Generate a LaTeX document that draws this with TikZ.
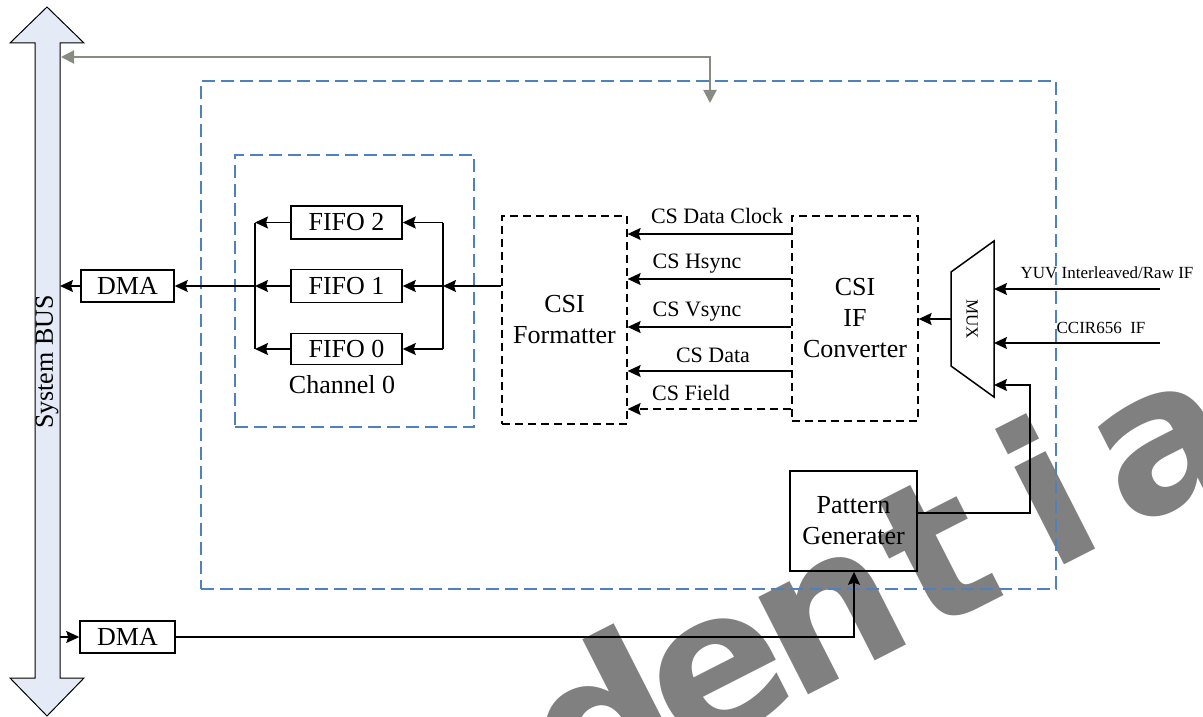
\documentclass[tikz,border=0pt]{standalone}
\usepackage{fontspec}
\setmainfont{Liberation Serif}
\newfontfamily\wmfont{DejaVu Sans}
\usetikzlibrary{arrows.meta,calc}
\definecolor{wmgray}{RGB}{128,128,128}
\definecolor{dblue}{RGB}{79,129,189}
\definecolor{busfill}{RGB}{228,235,246}
\definecolor{linkgray}{RGB}{135,139,130}
\tikzset{
  box/.style={draw,line width=1.5pt,inner sep=0pt,font=\fontsize{26}{31}\selectfont,align=center},
  dbox/.style={box,line width=1.3pt,dash pattern=on 8pt off 5pt},
  bluebox/.style={draw=dblue,line width=1.4pt,dash pattern=on 13pt off 6pt,inner sep=0pt},
  arr/.style={line width=1.5pt,-{Stealth[length=13pt,width=12pt,inset=2pt]}},
  plain/.style={line width=1.5pt},
  lbl/.style={font=\fontsize{22}{26}\selectfont,inner sep=0pt},
  small/.style={font=\fontsize{17}{20}\selectfont,inner sep=0pt},
  big/.style={font=\fontsize{26}{31}\selectfont,inner sep=0pt},
  garr/.style={draw=linkgray,line width=2pt,{Triangle[length=13pt,width=13pt]}-{Triangle[length=13pt,width=13pt]}},
  wm/.style={text=wmgray,font=\wmfont\bfseries\fontsize{200}{200}\selectfont,inner sep=0pt}
}
\begin{document}
\begin{tikzpicture}[x=1pt,y=-1pt]
\useasboundingbox (0,0) rectangle (1203,717);
% watermark
\begin{scope}
\clip (0,0) rectangle (1203,717);
\foreach \k/\ch in {5/d,6/e,7/n,8/t,9/i,10/a,11/l} {
  \node[wm,anchor=base,rotate=27] (wm\k) at ({77+111.4*\k},{1068-56.8*\k}) {\ch};
}
\end{scope}
% system bus
\draw[fill=busfill,line width=1pt] (47,7) -- (84,43) -- (60,43) -- (60,678) -- (84,678) -- (47,716) -- (10,678) -- (35,678) -- (35,43) -- (10,43) -- cycle;
\node[big,rotate=90] (busl) at (47,362) {System BUS};
\coordinate (busR) at (60,0);
% gray link
\coordinate (gA) at (61,57);
\coordinate (gC) at (710,57);
\coordinate (gB) at (710,103);
\draw[garr] (gA) -- (gC) -- (gB);
% dashed blue boxes
\node[bluebox,minimum width=855pt,minimum height=508pt] (outer) at (628.5,335) {};
\node[bluebox,minimum width=239pt,minimum height=272pt] (chan) at (354.5,291) {};
\node[big] (chl) at (342,385) {Channel 0};
% FIFOs
\node[box,minimum width=111pt,minimum height=33pt] (f2) at (346.5,222.5) {FIFO 2};
\node[box,minimum width=111pt,minimum height=33pt] (f1) at (346.5,286) {FIFO 1};
\node[box,minimum width=111pt,minimum height=31pt] (f0) at (346.5,349) {FIFO 0};
\coordinate (lb) at (255,286);
\coordinate (rb) at (443,286);
\draw[plain] (lb |- f2) -- (lb |- f0);
\draw[plain] (rb |- f2) -- (rb |- f0);
\foreach \f in {f2,f1,f0} {
  \draw[arr] (\f.west) -- (lb |- \f);
  \draw[arr] (rb |- \f) -- (\f.east);
}
% DMAs
\node[box,minimum width=93pt,minimum height=32pt] (dmaA) at (127.5,286) {DMA};
\node[box,minimum width=95pt,minimum height=32pt] (dmaB) at (127.5,637) {DMA};
\draw[arr] (lb |- dmaA) -- (dmaA.east);
\draw[arr] (dmaA.west) -- (busR |- dmaA);
\draw[arr] (busR |- dmaB) -- (dmaB.west);
% formatter and converter
\node[dbox,minimum width=125pt,minimum height=208pt] (fmt) at (564.5,320) {CSI\\Formatter};
\node[dbox,minimum width=126pt,minimum height=205pt] (conv) at (855,318.5) {CSI\\IF\\Converter};
\draw[arr] (fmt.west |- f1) -- (rb |- f1);
\coordinate (s1) at (700,234);
\coordinate (s2) at (700,279);
\coordinate (s3) at (700,327);
\coordinate (s4) at (700,371);
\coordinate (s5) at (700,409);
\draw[arr] (conv.west |- s1) -- (fmt.east |- s1);
\draw[arr] (conv.west |- s2) -- (fmt.east |- s2);
\draw[arr] (conv.west |- s3) -- (fmt.east |- s3);
\draw[arr] (conv.west |- s4) -- (fmt.east |- s4);
\draw[arr,dash pattern=on 8pt off 5pt] (conv.west |- s5) -- (fmt.east |- s5);
\node[lbl] (l1) at (717,216) {CS Data Clock};
\node[lbl] (l2) at (697,264) {CS Hsync};
\node[lbl] (l3) at (697,312) {CS Vsync};
\node[lbl] (l4) at (713,355) {CS Data};
\node[lbl] (l5) at (691,393) {CS Field};
% MUX
\coordinate (m1) at (951,272);
\coordinate (m2) at (994,241);
\coordinate (m3) at (994,397);
\coordinate (m4) at (951,366);
\draw[plain] (m1) -- (m2) -- (m3) -- (m4) -- cycle;
\node[small,rotate=-90] (muxl) at (972,319) {MUX};
\coordinate (mw) at (951,319);
\draw[arr] (mw) -- (conv.east |- mw);
\coordinate (in1) at (1160,289);
\coordinate (in2) at (1160,343);
\draw[arr] (in1) -- (m2 |- in1);
\draw[arr] (in2) -- (m2 |- in2);
\node[small] (yuv) at (1107,273) {YUV Interleaved/Raw IF};
\node[small] (ccir) at (1101,328) {CCIR656\ \ IF};
% pattern generator
\node[box,minimum width=127pt,minimum height=100pt] (pg) at (853.5,521) {Pattern\\Generater};
\coordinate (pgo) at (917,513);
\coordinate (pm) at (1030,385);
\draw[arr] (pg.east |- pgo) -- (pm |- pgo) -- (pm) -- (m2 |- pm);
\coordinate (pgi) at (854,0);
\draw[arr] (dmaB.east) -- (pgi |- dmaB) -- (pgi |- pg.south);
\end{tikzpicture}
\end{document}
